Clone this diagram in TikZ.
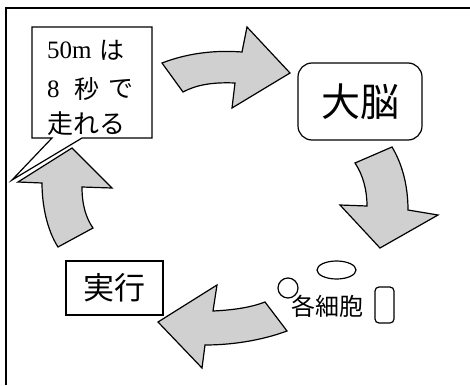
\documentclass[tikz,border=0pt]{standalone}
\usepackage{fontspec}
\setmainfont{Liberation Serif}
\newfontfamily\jp{Noto Sans CJK JP}
\usetikzlibrary{shapes.geometric}
\definecolor{arrowgray}{RGB}{208,208,208}
\tikzset{
  blockarrow/.style={draw=black, fill=arrowgray, line width=1.2pt, line join=miter},
  boxline/.style={draw=black, line width=1.2pt},
  plain/.style={inner sep=0pt, outer sep=0pt},
}
\begin{document}
\begin{tikzpicture}[x=1pt, y=-1pt]
\useasboundingbox (0,0) rectangle (470,385);
% outer frame
\draw[line width=2.4pt] (6,385) -- (6,8) -- (470,8);

% callout
\draw[boxline, fill=white, line join=miter] (32,27) -- (152,27) -- (152,138) -- (82,138) -- (12,180) -- (52,138) -- (32,138) -- cycle;
\node[plain, anchor=west, font=\fontsize{25}{25}\selectfont] (t1a) at (47,50) {50m};
\node[plain, anchor=west, font=\jp\fontsize{25}{25}\selectfont] (t1b) at (99,50) {は};
\node[plain, anchor=west, font=\fontsize{25}{25}\selectfont] (t2a) at (47,89) {8};
\node[plain, anchor=west, font=\jp\fontsize{25}{25}\selectfont] (t2b) at (74,89) {秒};
\node[plain, anchor=west, font=\jp\fontsize{25}{25}\selectfont] (t2c) at (108,89) {で};
\node[plain, anchor=west, font=\jp\fontsize{26}{26}\selectfont] (t3) at (47,124) {走れる};

% brain box
\node[boxline, rounded corners=14pt, minimum width=124pt, minimum height=77pt, inner sep=0pt,
      font=\jp\fontsize{39}{39}\selectfont] (brain) at (360,101.5) {大脳};

% execution box
\node[boxline, minimum width=97pt, minimum height=54pt, inner sep=0pt,
      font=\jp\fontsize{31}{31}\selectfont] (exec) at (114.5,288) {実行};

% cells
\node[plain, font=\jp\fontsize{24}{24}\selectfont] (cells) at (327,306) {各細胞};
\node[boxline, circle, minimum size=20pt, inner sep=0pt] (cellA) at (288,288) {};
\node[boxline, ellipse, minimum width=39pt, minimum height=18pt, inner sep=0pt] (cellB) at (336.5,270) {};
\node[boxline, rounded corners=4pt, minimum width=19pt, minimum height=36pt, inner sep=0pt] (cellC) at (384.5,305) {};

% top arrow
\draw[blockarrow] (162,63) .. controls (188,53) and (215,50) .. (242,52) -- (247,27) -- (290,73) -- (232,108) -- (235,83) .. controls (212,82) and (196,85) .. (183,92) -- cycle;
% right arrow
\draw[blockarrow] (355,163) -- (392,147) .. controls (401,162) and (408,183) .. (408,210) -- (438,215) -- (380,248) -- (340,205) -- (367,206) .. controls (367,190) and (363,175) .. (355,163) -- cycle;
% bottom arrow
\draw[blockarrow] (158,322) -- (217,285) -- (213,311) .. controls (235,310) and (252,307) .. (265,302) -- (287,331) .. controls (260,341) and (230,345) .. (205,345) -- (202,368) -- cycle;
% left arrow
\draw[blockarrow] (72,148) -- (112,188) -- (82,187) .. controls (82,205) and (86,218) .. (93,228) -- (58,247) .. controls (47,230) and (42,205) .. (42,183) -- (18,182) -- cycle;
\end{tikzpicture}
\end{document}
